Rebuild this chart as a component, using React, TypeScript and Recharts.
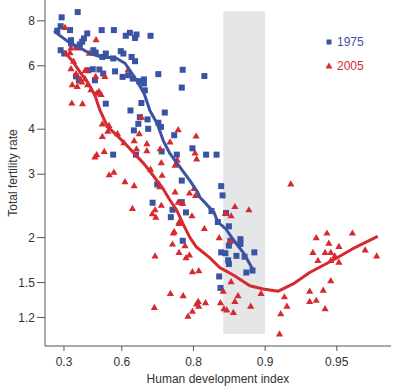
import React from 'react';
import { ScatterChart, Scatter, XAxis, YAxis, ReferenceArea, Legend, Label } from 'recharts';

// ---- data (HDI, total fertility rate) ----
const hdi1975 = [0.284, 0.387, 0.277, 0.253, 0.340, 0.514, 0.568, 0.615, 0.630, 0.653, 0.648, 0.697, 0.441, 0.423, 0.413, 0.346, 0.346, 0.400, 0.277, 0.302, 0.381, 0.473, 0.485, 0.533, 0.517, 0.565, 0.596, 0.606, 0.636, 0.648, 0.447, 0.470, 0.503, 0.521, 0.573, 0.603, 0.640, 0.624, 0.662, 0.677, 0.677, 0.680, 0.719, 0.778, 0.776, 0.377, 0.394, 0.481, 0.533, 0.632, 0.669, 0.664, 0.688, 0.644, 0.659, 0.690, 0.719, 0.726, 0.736, 0.759, 0.565, 0.651, 0.728, 0.765, 0.798, 0.776, 0.820, 0.823, 0.840, 0.847, 0.849, 0.716, 0.776, 0.785, 0.751, 0.755, 0.832, 0.842, 0.854, 0.858, 0.703, 0.778, 0.860, 0.873, 0.873, 0.858, 0.847, 0.853, 0.868, 0.878, 0.889, 0.857, 0.858, 0.880, 0.887, 0.844, 0.846];
const tfr1975 = [8.18, 8.46, 7.73, 7.51, 7.54, 7.54, 7.54, 7.27, 7.41, 7.33, 7.17, 7.27, 7.38, 7.15, 7.00, 7.07, 6.92, 6.88, 6.63, 6.49, 6.77, 6.63, 6.53, 6.49, 6.35, 6.29, 6.59, 6.49, 6.35, 6.18, 5.83, 5.87, 5.86, 5.71, 5.79, 5.59, 5.53, 5.65, 5.44, 5.50, 5.36, 5.13, 5.69, 5.85, 5.22, 5.61, 5.47, 5.47, 4.71, 4.51, 4.73, 4.32, 4.26, 3.97, 4.14, 4.01, 4.17, 4.06, 4.45, 3.85, 3.40, 3.40, 3.47, 3.40, 3.54, 2.88, 5.62, 3.40, 3.40, 2.78, 2.62, 2.81, 2.51, 2.35, 2.28, 2.39, 2.37, 2.21, 2.34, 2.15, 2.50, 1.96, 1.96, 1.98, 1.92, 1.90, 1.82, 1.81, 1.78, 1.77, 1.82, 1.73, 1.69, 1.60, 1.62, 1.56, 1.45];

const hdi2005 = [0.307, 0.487, 0.346, 0.390, 0.452, 0.346, 0.377, 0.441, 0.400, 0.354, 0.411, 0.443, 0.461, 0.490, 0.511, 0.351, 0.415, 0.429, 0.485, 0.529, 0.429, 0.384, 0.501, 0.624, 0.669, 0.340, 0.362, 0.517, 0.547, 0.542, 0.517, 0.583, 0.608, 0.526, 0.490, 0.481, 0.645, 0.662, 0.653, 0.686, 0.686, 0.697, 0.548, 0.568, 0.612, 0.645, 0.639, 0.710, 0.702, 0.712, 0.768, 0.805, 0.749, 0.724, 0.803, 0.806, 0.766, 0.727, 0.761, 0.729, 0.723, 0.761, 0.792, 0.801, 0.804, 0.768, 0.727, 0.797, 0.770, 0.759, 0.820, 0.866, 0.883, 0.853, 0.861, 0.757, 0.778, 0.770, 0.755, 0.770, 0.785, 0.792, 0.710, 0.798, 0.810, 0.750, 0.779, 0.708, 0.798, 0.789, 0.806, 0.783, 0.844, 0.860, 0.861, 0.850, 0.870, 0.866, 0.809, 0.822, 0.810, 0.846, 0.851, 0.855, 0.864, 0.885, 0.896, 0.922, 0.939, 0.945, 0.957, 0.946, 0.951, 0.937, 0.944, 0.947, 0.949, 0.940, 0.947, 0.951, 0.962, 0.966, 0.947, 0.935, 0.943, 0.935, 0.939, 0.944, 0.917, 0.919, 0.914, 0.913];
const tfr2005 = [7.67, 7.09, 6.73, 6.73, 6.51, 5.89, 5.71, 5.83, 5.53, 5.32, 5.41, 5.32, 5.15, 5.04, 5.00, 4.73, 4.71, 5.83, 5.61, 5.61, 5.53, 5.26, 5.10, 5.86, 4.32, 6.53, 6.18, 4.14, 4.10, 3.95, 3.82, 3.89, 3.67, 3.47, 3.40, 3.35, 3.72, 3.89, 3.53, 3.65, 3.49, 3.10, 2.99, 3.04, 2.86, 2.79, 2.41, 2.39, 2.33, 2.28, 3.99, 3.83, 3.69, 3.53, 3.44, 3.31, 3.29, 3.23, 3.18, 2.98, 2.77, 2.68, 2.66, 2.74, 2.62, 2.51, 2.46, 2.30, 2.21, 2.08, 2.12, 2.44, 2.39, 2.34, 2.30, 2.06, 2.49, 2.19, 1.92, 1.82, 1.76, 1.79, 1.78, 1.61, 1.62, 1.40, 1.38, 1.28, 1.25, 1.21, 1.31, 1.90, 2.00, 1.96, 1.51, 1.42, 1.38, 1.33, 1.33, 1.32, 1.29, 1.32, 1.27, 1.26, 1.24, 1.29, 1.40, 2.82, 2.00, 2.06, 2.06, 1.93, 1.89, 1.82, 1.82, 1.82, 1.78, 1.73, 1.73, 1.71, 1.85, 1.78, 1.52, 1.42, 1.43, 1.33, 1.34, 1.27, 1.37, 1.29, 1.23, 1.08];

const trendHdi1975 = [0.236, 0.284, 0.329, 0.390, 0.456, 0.521, 0.573, 0.612, 0.630, 0.653, 0.678, 0.695, 0.716, 0.732, 0.749, 0.772, 0.793, 0.808, 0.812, 0.836, 0.842, 0.854, 0.865, 0.877, 0.888];
const trendTfr1975 = [7.46, 7.22, 7.00, 6.77, 6.49, 6.33, 6.33, 6.10, 5.83, 5.47, 5.02, 4.51, 4.14, 3.72, 3.42, 3.14, 2.88, 2.67, 2.59, 2.35, 2.21, 2.11, 1.96, 1.81, 1.62];
const trendHdi2005 = [0.302, 0.351, 0.400, 0.447, 0.481, 0.506, 0.541, 0.573, 0.606, 0.642, 0.678, 0.705, 0.732, 0.749, 0.765, 0.779, 0.793, 0.806, 0.829, 0.845, 0.865, 0.884, 0.898, 0.912, 0.924, 0.935, 0.948, 0.957, 0.966];
const trendTfr2005 = [6.56, 6.22, 5.77, 5.36, 4.97, 4.51, 4.06, 3.89, 3.69, 3.45, 3.20, 2.97, 2.73, 2.54, 2.38, 2.18, 2.00, 1.88, 1.76, 1.65, 1.57, 1.47, 1.44, 1.42, 1.49, 1.60, 1.73, 1.86, 2.01];

const seriesNames = ['1975', '2005'];
const xTicks = [0.3, 0.6, 0.8, 0.9, 0.95];
const yTicks = [1.2, 1.5, 2, 3, 4, 6, 8];
const xDomain = [0.159, 0.9704];
const yDomain = [1, 9.14];
const bandHdi = [0.85, 0.9];
const bandTfr = [1.08, 8.5];

// ---- helpers ----
const tx = (h: number) => -Math.log(1 - h);
const rows = (h: number[], f: number[]) => h.map((v, i) => ({ x: tx(v), y: f[i] }));

const BLUE = '#3a53a3';
const RED = '#d62a30';
const FONT = '"Liberation Sans", Arial, Helvetica, sans-serif';

const Square = (p: any) => <rect x={p.cx - 3} y={p.cy - 3} width={6} height={6} fill={BLUE} />;
const Tri = (p: any) => (
  <path d={`M${p.cx},${p.cy - 3.6}L${p.cx + 3.6},${p.cy + 2.6}L${p.cx - 3.6},${p.cy + 2.6}Z`} fill={RED} />
);
const Nothing = () => <g />;

const LegendBox = () => (
  <div style={{ fontFamily: FONT, fontSize: 12 }}>
    {seriesNames.map((n, i) => (
      <div key={n} style={{ display: 'flex', alignItems: 'center', height: 24 }}>
        <svg width={10} height={10} style={{ display: 'block' }}>
          {i === 0 ? (
            <rect x={2.5} y={2.5} width={5} height={5} fill={BLUE} />
          ) : (
            <path d="M5,1.5L8.5,7.5L1.5,7.5Z" fill={RED} />
          )}
        </svg>
        <span style={{ marginLeft: 3, color: i === 0 ? BLUE : RED, lineHeight: '24px' }}>{n}</span>
      </div>
    ))}
  </div>
);

const YLabel = (props: any) => {
  const vb = props.viewBox || { y: 0, height: 346 };
  const cy = vb.y + vb.height / 2;
  return (
    <text x={13} y={cy} transform={`rotate(-90, 13, ${cy})`} textAnchor="middle" dominantBaseline="central"
      fill="#333" fontSize={12} fontFamily={FONT}>Total fertility rate</text>
  );
};

export default function App() {
  const xTickVals = xTicks.map(tx);
  const fmtX = (v: number) => {
    const h = xTicks.find((t) => Math.abs(tx(t) - v) < 1e-6);
    return h === undefined ? '' : String(h);
  };
  return (
    <div style={{ position: 'absolute', left: 0, top: 0, background: '#fff' }}>
      <ScatterChart width={400} height={391} margin={{ top: 0, right: 9, left: 0, bottom: 0 }}>
        <XAxis type="number" dataKey="x" domain={[tx(xDomain[0]), tx(xDomain[1])]} ticks={xTickVals}
          tickFormatter={fmtX} allowDataOverflow height={45} tickSize={5} tickMargin={6}
          stroke="#555" tick={{ fill: '#333', fontSize: 12, fontFamily: FONT }}>
          <Label value="Human development index" position="insideBottom" offset={8}
            style={{ fill: '#333', fontSize: 12, fontFamily: FONT }} />
        </XAxis>
        <YAxis type="number" dataKey="y" scale="log" domain={yDomain} ticks={yTicks} allowDataOverflow
          width={45} tickSize={8} tickMargin={2} stroke="#555"
          tick={{ fill: '#333', fontSize: 12, fontFamily: FONT }}>
          <Label content={<YLabel />} />
        </YAxis>
        <ReferenceArea x1={tx(bandHdi[0])} x2={tx(bandHdi[1])} y1={bandTfr[0]} y2={bandTfr[1]}
          fill="#e4e6e7" fillOpacity={1} stroke="none" />
        <Scatter name={seriesNames[0]} data={rows(hdi1975, tfr1975)} shape={Square} isAnimationActive={false} />
        <Scatter name={seriesNames[1]} data={rows(hdi2005, tfr2005)} shape={Tri} isAnimationActive={false} />
        <Scatter data={rows(trendHdi1975, trendTfr1975)} shape={Nothing} legendType="none"
          line={{ stroke: BLUE, strokeWidth: 3, strokeLinejoin: 'round', strokeLinecap: 'round' }} isAnimationActive={false} />
        <Scatter data={rows(trendHdi2005, trendTfr2005)} shape={Nothing} legendType="none"
          line={{ stroke: RED, strokeWidth: 3, strokeLinejoin: 'round', strokeLinecap: 'round' }} isAnimationActive={false} />
        <Legend content={<LegendBox />} layout="vertical" align="center" verticalAlign="middle"
          wrapperStyle={{ position: 'absolute', left: 324, top: 30, width: 70 }} />
      </ScatterChart>
    </div>
  );
}
